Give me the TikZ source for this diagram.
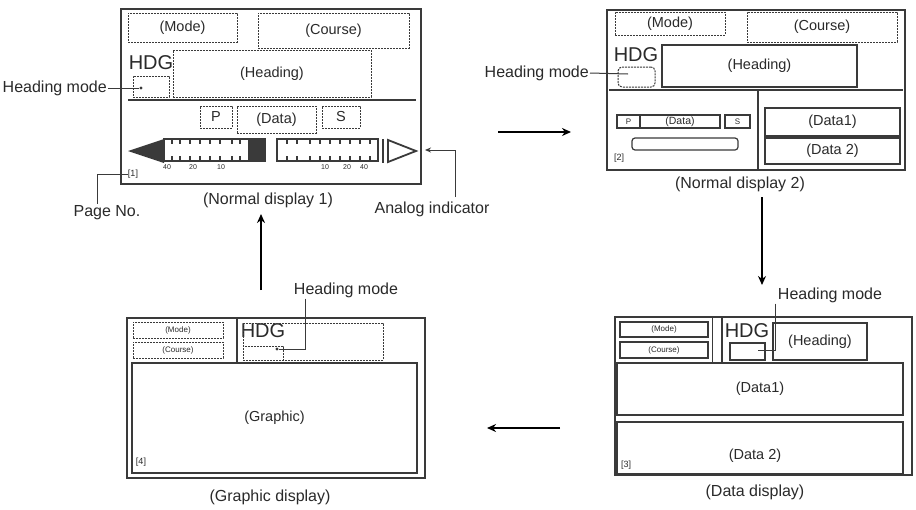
\documentclass[tikz,border=0pt]{standalone}
\usepackage{fontspec}
\setmainfont{Liberation Sans}
\usetikzlibrary{fit,arrows.meta}
\definecolor{lc}{HTML}{3A3A3A}
\definecolor{tc}{HTML}{2A2A2A}
\tikzset{
  outer/.style={draw=lc, line width=1.8pt, inner sep=0pt},
  dbox/.style={draw=lc, dash pattern=on 2pt off 1pt, line width=1pt, inner sep=0pt},
  sbox/.style={draw=lc, line width=1.2pt, inner sep=0pt},
  btext/.style={label={[inner sep=0pt, text=tc, font=\fontsize{14.5}{16}\selectfont]center:#1}},
  bmid/.style={label={[inner sep=0pt, text=tc, font=\fontsize{10.5}{12}\selectfont]center:#1}},
  btiny/.style={label={[inner sep=0pt, text=tc, font=\fontsize{8}{9}\selectfont]center:#1}},
  tiny/.style={text=tc, inner sep=0pt, font=\fontsize{7}{8}\selectfont},
  lab/.style={text=tc, font=\fontsize{16}{18}\selectfont, inner sep=1pt},
  hdg/.style={text=tc, font=\fontsize{20}{22}\selectfont, inner sep=0pt},
  pgn/.style={text=tc, font=\fontsize{9}{10}\selectfont, inner sep=0pt},
  lead/.style={draw=lc, line width=1pt},
  flow/.style={draw=black, line width=2.2pt, -{Stealth[length=9pt,width=8pt]}},
  sep/.style={draw=lc, line width=1.5pt},
  dot/.style={fill=lc, circle, inner sep=1.1pt},
}
\begin{document}
\begin{tikzpicture}[x=1pt,y=-1pt]
\useasboundingbox[fill=white] (0,0) rectangle (916,509);

% ================= Normal display 1 =================
\node[outer, fit={(121,9)(421,184)}] (d1) {};
\node[dbox, btext=(Mode), fit={(128,13)(237,42)}] (mode1) {};
\node[dbox, btext=(Course), fit={(258,13)(409,48)}] (course1) {};
\node[hdg] (hdg1) at (151,63) {HDG};
\node[dbox, btext=(Heading), fit={(173,50)(371,97)}] (heading1) {};
\node[dbox, fit={(133,76)(169,97)}] (hm1) {};
\node[dot] (hmdot1) at (141,88) {};
\draw[sep] (128,100) -- (416,100);
\node[dbox, btext=P, fit={(200,106)(232,128)}] (p1) {};
\node[dbox, btext=(Data), fit={(237,106)(316,133)}] (data1r) {};
\node[dbox, btext=S, fit={(322,106)(360,128)}] (s1) {};
% analog indicator
\fill[lc] (128,151) -- (164,139) -- (164,163) -- cycle;
\fill[lc] (248,139) rectangle (265,161);
\draw[lc, line width=1.8pt] (164,139) rectangle (265,161);
\draw[lc, line width=1.8pt] (277,139) rectangle (378,161);
\foreach \t in {172,180,190,200,210,220,232,240}{
  \draw[lc, line width=1.2pt] (\t,139) -- (\t,144);
  \draw[lc, line width=1.2pt] (\t,161) -- (\t,156);}
\foreach \t in {287,297,310,320,330,340,350,360,370}{
  \draw[lc, line width=1.2pt] (\t,139) -- (\t,144);
  \draw[lc, line width=1.2pt] (\t,161) -- (\t,156);}
\draw[lc, line width=1.6pt] (383,139) -- (383,163);
\node[coordinate] (rtip) at (416,151) {};
\draw[lc, line width=1.8pt] (388,140) -- (rtip) -- (388,162) -- cycle;
\node[tiny] (s40a) at (167,167) {40};
\node[tiny] (s20a) at (193,167) {20};
\node[tiny] (s10a) at (221,167) {10};
\node[tiny] (s10b) at (325,167) {10};
\node[tiny] (s20b) at (347,167) {20};
\node[tiny] (s40b) at (364,167) {40};
\node[pgn] (pn1) at (133,174) {[1]};
\node[lab] (cap1) at (268,200) {(Normal display 1)};
\node[lab, anchor=east] (hmlab1) at (108,88) {Heading mode};
\draw[lead] (hmlab1.east) -- (hmdot1);
\node[lab] (pglab) at (107,213) {Page No.};
\coordinate (pgc) at (97,204);
\draw[lead] (pn1.west) -| (pgc);
\node[lab] (ailab) at (432,209) {Analog indicator};
\coordinate (aic) at (455,197);
\coordinate (aie) at (425,150);
\draw[lead, -{Stealth[length=6pt,width=5pt]}] (aic) |- (aie);

% ================= Normal display 2 =================
\node[outer, fit={(607,10)(905,170)}] (d2) {};
\node[dbox, btext=(Mode), fit={(615,12)(725,35)}] (mode2) {};
\node[dbox, btext=(Course), fit={(747,12)(897,42)}] (course2) {};
\node[hdg] (hdg2) at (636,55) {HDG};
\node[sbox, btext=(Heading), fit={(662,45)(857,87)}] (heading2) {};
\node[dbox, rounded corners=4pt, fit={(618,67)(655,87)}] (hm2) {};
\coordinate (hmdot2) at (628,74);
\draw[sep] (609,90) -- (903,90);
\draw[sep] (758,90) -- (758,170);
\node[sbox, btiny=P, fit={(617,115)(640,128)}] (p2) {};
\node[sbox, bmid=(Data), fit={(640,115)(720,128)}] (data2r) {};
\node[sbox, btiny=S, fit={(725,115)(750,128)}] (s2) {};
\node[sbox, rounded corners=3pt, fit={(632,138)(738,150)}] (bar2) {};
\node[pgn] (pn2) at (619,158) {[2]};
\node[sbox, btext=(Data1), fit={(765,108)(900,136)}] (dat21) {};
\node[sbox, btext=(Data 2), fit={(765,138)(900,164)}] (dat22) {};
\node[lab] (cap2) at (740,184) {(Normal display 2)};
\node[lab, anchor=east] (hmlab2) at (590,73) {Heading mode};
\draw[lead] (hmlab2.east) -- (hmdot2);

% ================= Data display =================
\node[outer, fit={(615,317)(912,475)}] (d3) {};
\node[sbox, btiny=(Mode), fit={(620,322)(708,337)}] (mode3) {};
\node[sbox, btiny=(Course), fit={(620,342)(708,358)}] (course3) {};
\draw[lc, line width=1pt] (712,318) -- (712,362);
\draw[lc, line width=2.4pt] (722,318) -- (722,362);
\node[hdg] (hdg3) at (747,331) {HDG};
\node[sbox, fit={(730,343)(765,360)}] (hm3) {};
\node[sbox, btext=(Heading), fit={(773,323)(867,360)}] (heading3) {};
\node[sbox, btext=(Data1), fit={(617,363)(903,415)}] (dat31) {};
\node[sbox, fit={(617,422)(903,474)}] (dat32) {};
\node[text=tc, font=\fontsize{14.5}{16}\selectfont] (dat32t) at (755,456) {(Data 2)};
\node[pgn] (pn3) at (626,465) {[3]};
\node[lab] (cap3) at (755,492) {(Data display)};
\node[lab] (hmlab3) at (830,295) {Heading mode};
\coordinate (hmk3) at (775,350);
\coordinate (hmdot3) at (758,350);
\draw[lead] (hmlab3.south -| hmk3) -- (hmk3) -- (hmdot3);

% ================= Graphic display =================
\node[outer, fit={(127,318)(425,478)}] (d4) {};
\node[dbox, btiny=(Mode), fit={(133,322)(223,338)}] (mode4) {};
\node[dbox, btiny=(Course), fit={(133,342)(223,358)}] (course4) {};
\draw[lc, line width=2.6pt] (237,319) -- (237,362);
\node[hdg] (hdg4) at (263,331) {HDG};
\node[dbox, fit={(243,323)(383,360)}] (heading4) {};
\node[dbox, fit={(243,346)(283,360)}] (hm4) {};
\node[dot] (hmdot4) at (277,349) {};
\node[sbox, btext=(Graphic), fit={(132,363)(417,473)}] (graphic) {};
\node[pgn] (pn4) at (141,462) {[4]};
\node[lab] (cap4) at (270,497) {(Graphic display)};
\node[lab] (hmlab4) at (346,290) {Heading mode};
\coordinate (hmk4) at (305,349);
\draw[lead] (hmlab4.south -| hmk4) -- (hmk4) -- (hmdot4);

% ================= flow arrows =================
\coordinate (fa1) at (498,132); \coordinate (fb1) at (571,132);
\draw[flow] (fa1) -- (fb1);
\coordinate (fa2) at (762,197); \coordinate (fb2) at (762,285);
\draw[flow] (fa2) -- (fb2);
\coordinate (fa3) at (560,428); \coordinate (fb3) at (487,428);
\draw[flow] (fa3) -- (fb3);
\coordinate (fa4) at (261,290); \coordinate (fb4) at (261,214);
\draw[flow] (fa4) -- (fb4);
\end{tikzpicture}
\end{document}
